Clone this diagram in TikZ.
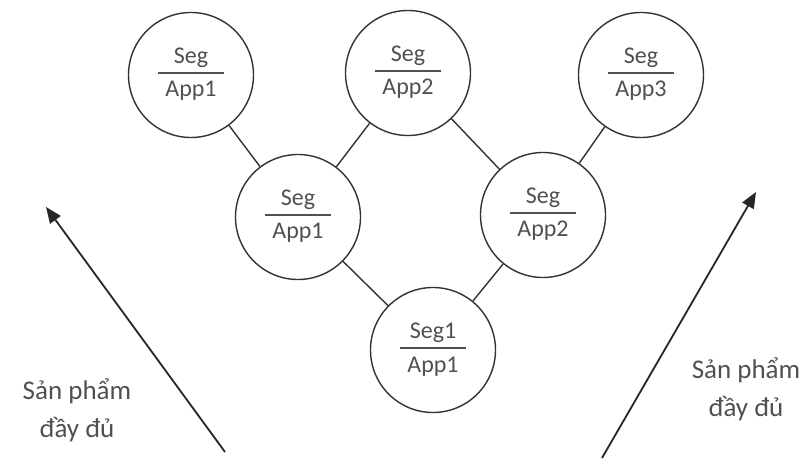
\documentclass[tikz,border=0pt]{standalone}
\usepackage{fontspec}
\setmainfont{Carlito}
\usetikzlibrary{arrows.meta}
\definecolor{txtgray}{HTML}{505050}
\definecolor{linegray}{HTML}{333333}
\tikzset{
  circ/.style={circle, draw=linegray, line width=1.4pt, minimum size=125pt, inner sep=0pt},
  txt/.style={text=txtgray, font=\fontsize{24}{28}\selectfont, inner sep=0pt},
  frac/.style={draw=txtgray, line width=1.2pt},
  conn/.style={draw=linegray, line width=1.4pt},
  arr/.style={draw=black!85, line width=1.8pt, -{Triangle[length=16pt,width=13pt]}},
  lbl/.style={text=txtgray, font=\fontsize{27}{38}\selectfont, align=center, inner sep=0pt}
}
\newcommand\circnode[4]{%
  \node[circ] (#1) at (#2) {};
  \node[txt, anchor=base] at ([yshift=11pt]#1.center) {#3};
  \draw[frac] ([xshift=-33pt,yshift=2pt]#1.center) -- ([xshift=33pt,yshift=2pt]#1.center);
  \node[txt, anchor=base] at ([yshift=-22pt]#1.center) {#4};
}
\begin{document}
\begin{tikzpicture}[x=1pt,y=1pt]
\useasboundingbox (0,0) rectangle (804,464);
\circnode{tl}{191,389}{Seg}{App1}
\circnode{tm}{408,391}{Seg}{App2}
\circnode{tr}{641,389}{Seg}{App3}
\circnode{ml}{298,247}{Seg}{App1}
\circnode{mr}{543,249}{Seg}{App2}
\circnode{b}{433,114}{Seg1}{App1}
\draw[conn] (tl) -- (ml);
\draw[conn] (tm) -- (ml);
\draw[conn] (tm) -- (mr);
\draw[conn] (tr) -- (mr);
\draw[conn] (ml) -- (b);
\draw[conn] (mr) -- (b);
\coordinate (la0) at (225,12);
\coordinate (la1) at (46,257);
\coordinate (ra0) at (602,6);
\coordinate (ra1) at (756,272);
\draw[arr] (la0) -- (la1);
\draw[arr] (ra0) -- (ra1);
\node[lbl] (ll) at (77,54) {Sản phẩm\\đầy đủ};
\node[lbl] (rl) at (746,75) {Sản phẩm\\đầy đủ};
\end{tikzpicture}
\end{document}
